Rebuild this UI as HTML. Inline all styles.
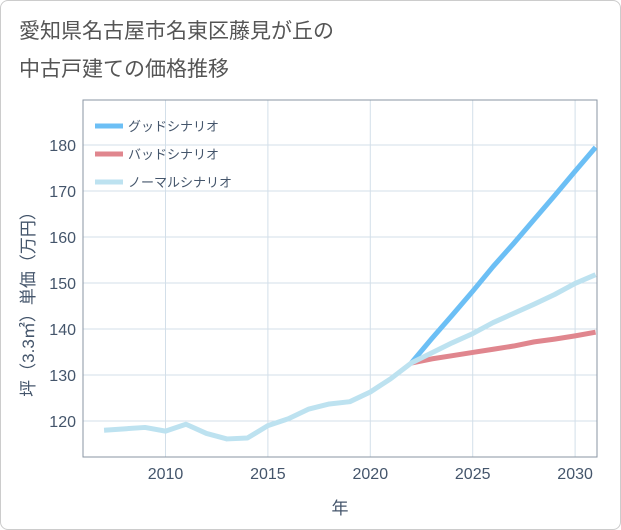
<!DOCTYPE html>
<html><head><meta charset="utf-8"><style>
body{margin:0;background:#fff;}
#wrap{position:relative;width:619px;height:528px;border:1px solid #ccc;border-radius:8px;background:#fff;overflow:hidden;font-family:"Liberation Sans","Noto Sans CJK JP",sans-serif;}
.title{position:absolute;left:18px;font-size:21px;color:#555;}
</style></head><body>
<div id="wrap">
<div class="title" style="top:14px">愛知県名古屋市名東区藤見が丘の</div>
<div class="title" style="top:52px">中古戸建ての価格推移</div>
<svg id="chart" width="621" height="530" style="position:absolute;left:-1px;top:-1px"></svg>
</div>
<script>
const years=[2007,2008,2009,2010,2011,2012,2013,2014,2015,2016,2017,2018,2019,2020,2021,2022,2023,2024,2025,2026,2027,2028,2029,2030,2031];
const normal=[118,118.3,118.6,117.8,119.3,117.3,116.1,116.3,119,120.5,122.6,123.7,124.2,126.3,129.2,132.6,134.8,137,139,141.4,143.4,145.4,147.5,149.9,151.8];
const futureYears=[2022,2023,2024,2025,2026,2027,2028,2029,2030,2031];
const good=[132.6,137.9,143,148.2,153.6,158.6,163.8,169,174.3,179.5];
const bad=[132.6,133.5,134.2,134.9,135.6,136.3,137.2,137.8,138.5,139.3];
const xTicks=[2010,2015,2020,2025,2030];
const yTicks=[120,130,140,150,160,170,180];
const L=83,R=597,T=100,B=457;
const x=v=>165.5+(v-2010)*20.48;
const y=v=>421-(v-120)*4.6;
const svg=document.getElementById('chart');
const NS='http://www.w3.org/2000/svg';
function mk(tag,attrs){const e=document.createElementNS(NS,tag);for(const k in attrs)e.setAttribute(k,attrs[k]);svg.appendChild(e);return e;}
xTicks.forEach(t=>{
 const g=mk('line',{x1:x(t),x2:x(t),y1:T,y2:B,stroke:'#d3dfe9','stroke-width':1});
 
 
 const tx=mk('text',{x:x(t),y:479,'text-anchor':'middle','font-size':16,fill:'#44556b','font-family':'Liberation Sans,sans-serif'});
 tx.textContent=t;
 
 
});
yTicks.forEach(t=>{
 const g=mk('line',{x1:L,x2:R,y1:y(t),y2:y(t),stroke:'#d3dfe9','stroke-width':1});
 
 
 const tx=mk('text',{x:76,y:y(t)+6,'text-anchor':'end','font-size':16,fill:'#44556b','font-family':'Liberation Sans,sans-serif'});
 tx.textContent=t;
 
 
});
const frame=mk('rect',{x:L,y:T,width:R-L,height:B-T,fill:'none',stroke:'#8a96a3','stroke-width':1});


function line(xs,vs,color,name){
 const p=mk('polyline',{points:xs.map((v,i)=>x(v)+','+y(vs[i])).join(' '),fill:'none',stroke:color,'stroke-width':5,'stroke-linejoin':'round'});
 
 
}
const cp=mk('clipPath',{id:'c'});
const cr=document.createElementNS(NS,'rect');cr.setAttribute('x',L);cr.setAttribute('y',T);cr.setAttribute('width',R-L);cr.setAttribute('height',B-T);cp.appendChild(cr);
line(futureYears,good,'#6cbff5','good-scenario-line');
line(futureYears,bad,'#e0868e','bad-scenario-line');
line(years,normal,'#bde2f0','normal-scenario-line');
svg.querySelectorAll('polyline').forEach(p=>p.setAttribute('clip-path','url(#c)'));
const leg=[['グッドシナリオ','#6cbff5','legend-good'],['バッドシナリオ','#e0868e','legend-bad'],['ノーマルシナリオ','#bde2f0','legend-normal']];
leg.forEach((l,i)=>{
 const yy=126+i*28;
 const s=mk('line',{x1:95,x2:123,y1:yy,y2:yy,stroke:l[1],'stroke-width':5});
 
 
 const t=mk('text',{x:128,y:yy+5,'font-size':13,fill:'#44556b','font-family':'Liberation Sans,Noto Sans CJK JP,sans-serif'});
 t.textContent=l[0];
 
 
});
const xt=mk('text',{x:340,y:514,'text-anchor':'middle','font-size':17,fill:'#44556b','font-family':'Liberation Sans,Noto Sans CJK JP,sans-serif'});
xt.textContent='年';


const yt=mk('text',{x:0,y:0,'text-anchor':'middle','font-size':17,fill:'#44556b','font-family':'Liberation Sans,Noto Sans CJK JP,sans-serif',transform:'translate(34,300) rotate(-90)'});
yt.textContent='坪（3.3㎡）単価（万円）';


</script>
</body></html>
